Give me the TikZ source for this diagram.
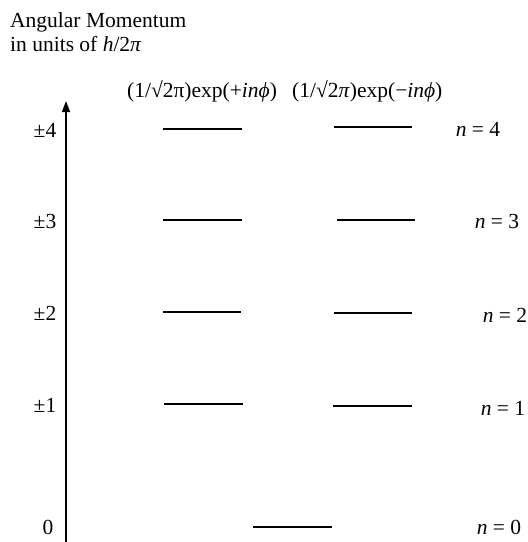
\documentclass[tikz,border=0pt]{standalone}
\usepackage{fontspec}
\setmainfont{Liberation Serif}
\usetikzlibrary{arrows.meta}
\begin{document}
\begin{tikzpicture}[x=1pt,y=-1pt,
  txt/.style={inner sep=0pt,font=\fontsize{21.5}{25}\selectfont},
  lvl/.style={line width=2pt},
  axis/.style={line width=1.5pt,-{Triangle[length=11pt,width=8pt]}}]
\useasboundingbox (0,0) rectangle (528,542);
% title
\node[txt,anchor=base west] (t1) at (10,27) {Angular Momentum};
\node[txt,anchor=base west] (t2) at (10,51) {in units of \textit{h}/2\textit{π}};
\node[txt,anchor=base west] (h1) at (127,97) {(1/√2π)exp(+\textit{inϕ})};
\node[txt,anchor=base west] (h2) at (292,97) {(1/√2\textit{π})exp(−\textit{inϕ})};
% axis
\coordinate (ab) at (66,542);
\coordinate (at) at (66,101);
\draw[axis] (ab) -- (at);
% left labels
\node[txt] (m4) at (45,130) {±4};
\node[txt] (m3) at (45,221) {±3};
\node[txt] (m2) at (45,313) {±2};
\node[txt] (m1) at (45,405) {±1};
\node[txt] (m0) at (48,527) {0};
% levels
\draw[lvl] (163,129) -- (242,129);
\draw[lvl] (334,127) -- (412,127);
\draw[lvl] (163,220) -- (242,220);
\draw[lvl] (337,220) -- (415,220);
\draw[lvl] (163,312) -- (241,312);
\draw[lvl] (334,313) -- (412,313);
\draw[lvl] (164,404) -- (243,404);
\draw[lvl] (333,406) -- (412,406);
\draw[lvl] (253,527) -- (332,527);
% right labels
\node[txt] (n4) at (478,129) {\textit{n} = 4};
\node[txt] (n3) at (497,221) {\textit{n} = 3};
\node[txt] (n2) at (505,315) {\textit{n} = 2};
\node[txt] (n1) at (503,408) {\textit{n} = 1};
\node[txt] (n0) at (499,527) {\textit{n} = 0};
\end{tikzpicture}
\end{document}
